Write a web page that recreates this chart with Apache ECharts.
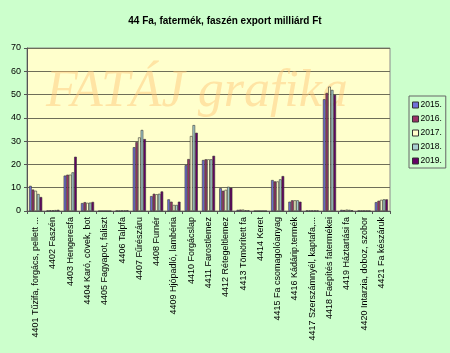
<!DOCTYPE html>
<html>
<head>
<meta charset="utf-8">
<script src="https://cdn.jsdelivr.net/npm/echarts@6/dist/echarts.min.js"></script>
<style>
  html, body { margin: 0; padding: 0; background: #CCFFCC; }
  #chart { width: 450px; height: 353px; }
</style>
</head>
<body>
<div id="chart"></div>
<script>
// categories as printed under the axis
const categories = [
  '4401 Tűzifa, forgács, pellett ...',
  '4402 Faszén',
  '4403 Hengeresfa',
  '4404 Karó, cövek, bot',
  '4405 Fagyapot, faliszt',
  '4406 Talpfa',
  '4407 Fűrészáru',
  '4408 Furnér',
  '4409 Hjópadló, lambéria',
  '4410 Forgácslap',
  '4411 Farostlemez',
  '4412 Rétegeltlemez',
  '4413 Tömörített fa',
  '4414 Keret',
  '4415 Fa csomagolóanyag',
  '4416 Kádárip.termék',
  '4417 Szerszámnyél, kaptafa,...',
  '4418 Faépítés fatermékei',
  '4419 Háztartási fa',
  '4420 Intarzia, doboz, szobor',
  '4421 Fa készáruk'
];

const years = ['2015.', '2016.', '2017.', '2018.', '2019.'];

const v2015 = [10.8, 0.2, 15.2, 3.4, 0, 0.1, 27.4, 6.4, 5.0, 19.7, 21.9, 9.8, 0.5, 0, 13.3, 4.0, 0.2, 48.0, 0.5, 0.1, 3.8];
const v2016 = [9.2, 0.3, 15.6, 3.8, 0, 0.1, 29.6, 7.4, 4.0, 22.3, 22.2, 8.7, 0.6, 0, 12.7, 4.6, 0.2, 50.7, 0.4, 0.1, 4.4];
const v2017 = [8.7, 0.3, 15.6, 3.5, 0, 0.2, 31.6, 7.2, 2.6, 32.2, 22.2, 9.1, 0.6, 0, 12.7, 4.6, 0.2, 53.4, 0.6, 0.1, 4.8];
const v2018 = [7.3, 0.4, 16.6, 3.6, 0, 0.2, 34.8, 7.4, 2.6, 36.9, 22.2, 10.4, 0.3, 0, 13.6, 4.6, 0.2, 52.0, 0.5, 0.1, 5.0];
const v2019 = [6.0, 0.5, 23.3, 3.9, 0, 0.3, 30.9, 8.4, 4.0, 33.6, 23.7, 10.0, 0.3, 0, 15.0, 4.0, 0.2, 49.9, 0.3, 0.1, 5.0];

const values = [v2015, v2016, v2017, v2018, v2019];
const colors = ['#7070D8', '#993366', '#FFFFCC', '#A8D0D0', '#660066'];

const chart = echarts.init(document.getElementById('chart'));

const option = {
  backgroundColor: '#CCFFCC',
  animation: false,
  title: {
    text: '44 Fa, fatermék, faszén export milliárd Ft',
    left: 'center',
    top: 11,
    textStyle: { fontFamily: 'Liberation Sans, Arial', fontSize: 10, fontWeight: 'bold', color: '#000' }
  },
  legend: {
    orient: 'vertical',
    left: 409,
    top: 96,
    padding: [4, 4, 2, 3],
    itemGap: 4,
    itemWidth: 6,
    itemHeight: 6,
    borderColor: '#666',
    borderWidth: 1,
    backgroundColor: '#CCFFCC',
    textStyle: { fontFamily: 'Liberation Sans, Arial', fontSize: 8.5, lineHeight: 10, color: '#000', padding: [0, 0, 0, -3] },
    data: years.map((y) => ({ name: y, icon: 'rect', itemStyle: { borderColor: '#333', borderWidth: 1 } }))
  },
  grid: {
    left: 27,
    right: 60,
    top: 48,
    bottom: 142,
    outerBoundsMode: 'none',
    show: true,
    backgroundColor: '#FFFFCC',
    borderColor: '#8a8a8a',
    borderWidth: 1
  },
  graphic: [{
    type: 'text',
    left: 46,
    top: 66,
    z: 1,
    silent: true,
    style: {
      text: 'FATÁJ grafika',
      font: 'italic 52px "Liberation Serif", serif',
      fill: 'rgba(255, 195, 115, 0.45)'
    }
  }],
  xAxis: {
    type: 'category',
    data: categories,
    axisLine: { lineStyle: { color: '#555' } },
    axisTick: { show: true, length: 3, lineStyle: { color: '#555' } },
    axisLabel: {
      rotate: 90,
      interval: 0,
      margin: 6,
      fontFamily: 'Liberation Sans, Arial',
      fontSize: 9,
      color: '#000'
    }
  },
  yAxis: {
    type: 'value',
    min: 0,
    max: 70,
    interval: 10,
    axisLine: { show: true, lineStyle: { color: '#555' } },
    axisTick: { show: true, length: 3, lineStyle: { color: '#555' } },
    axisLabel: { fontFamily: 'Liberation Sans, Arial', fontSize: 9, color: '#000', margin: 6 },
    splitLine: { lineStyle: { color: '#6e6e58', width: 1 } }
  },
  series: years.map((y, i) => ({
    name: y,
    type: 'bar',
    data: values[i],
    barGap: '0%',
    barCategoryGap: '24%',
    z: 3,
    itemStyle: { color: colors[i], borderColor: '#333', borderWidth: 0.6 }
  }))
};

chart.setOption(option);
</script>
</body>
</html>
